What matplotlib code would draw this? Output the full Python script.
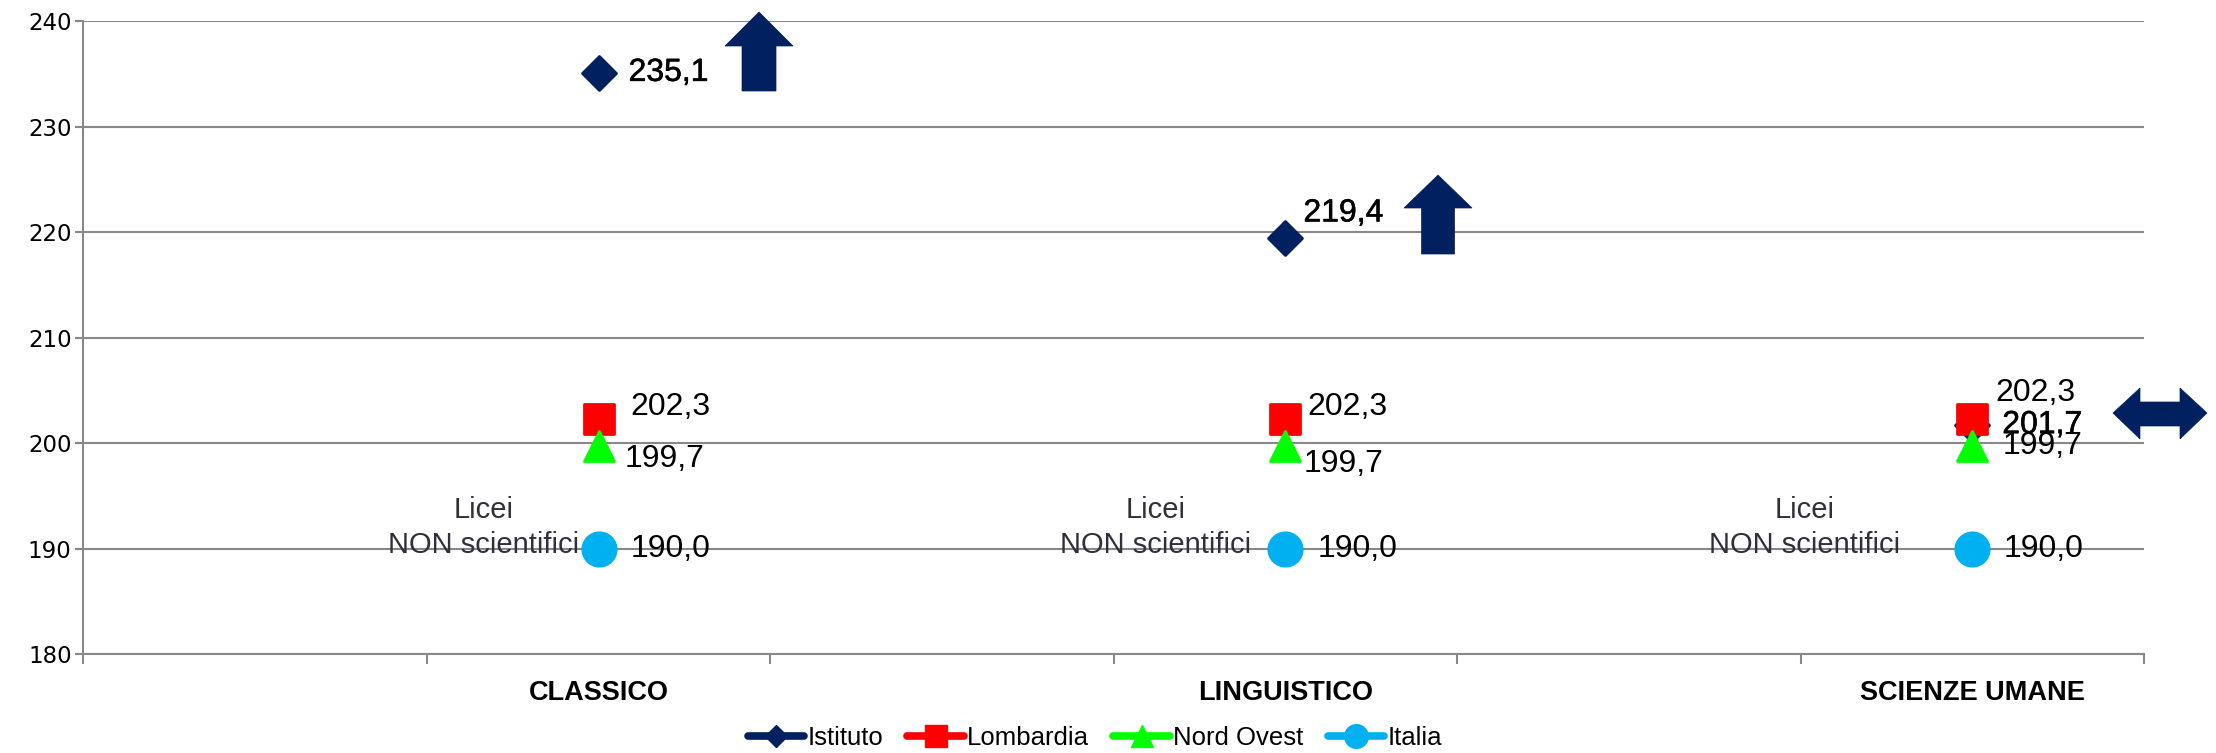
import matplotlib
matplotlib.use('Agg')
import matplotlib.pyplot as plt
import matplotlib.patheffects as pe
from matplotlib import font_manager
from matplotlib.lines import Line2D
from matplotlib.markers import MarkerStyle
from matplotlib.patches import Polygon

# data
categories = ["CLASSICO", "LINGUISTICO", "SCIENZE UMANE"]
series = ["Istituto", "Lombardia", "Nord Ovest", "Italia"]
istituto = [235.1, 219.4, 201.7]
lombardia = [202.3, 202.3, 202.3]
nord_ovest = [199.7, 199.7, 199.7]
italia = [190.0, 190.0, 190.0]
group_note = "Licei\nNON scientifici"

colors = ["#002060", "#FF0000", "#00FF00", "#00B0F0"]
markers = ["D", "s", "^", "o"]
msizes = [17.5, 22, 22, 24]
leg_msizes = [11, 16, 16, 17]

# label offsets in pixels (dx, dy) per series / category
offsets = [
    [(30, 0), (18, 25), (30, 0)],
    [(32, 12), (22, 12), (23, 26)],
    [(26, -13), (18, -18), (30, 0)],
    [(32, 0), (32, 0), (31, 0)],
]
note_x = [1.164, 3.121, 5.013]

names = {f.name for f in font_manager.fontManager.ttflist}
sans = "Liberation Sans" if "Liberation Sans" in names else "DejaVu Sans"

W, H = 2216, 753
fig = plt.figure(figsize=(W / 100, H / 100), dpi=100)
ax = fig.add_axes([83.4 / W, 1 - 654 / H, (2144 - 83.4) / W, (654 - 21.2) / H])

xs = [2 * i + 1.5 for i in range(len(categories))]
values = [istituto, lombardia, nord_ovest, italia]

for k, vals in enumerate(values):
    ms = MarkerStyle(markers[k], joinstyle="round")
    ax.plot(xs, vals, linestyle="none", marker=ms, ms=msizes[k],
            color=colors[k], mec=colors[k], mew=2, zorder=3 + k)
    for i, v in enumerate(vals):
        dx, dy = offsets[k][i]
        t = ax.annotate(f"{v:.1f}".replace(".", ","), (xs[i], v),
                        xytext=(dx, dy), textcoords="offset pixels",
                        ha="left", va="center", fontsize=23, family=sans,
                        color="black", zorder=10)
        if k == 0:
            t.set_path_effects([pe.withStroke(linewidth=0.4,
                                              foreground="black")])

for i in range(len(categories)):
    ax.text(note_x[i], 192.0, group_note, ha="center", va="center",
            multialignment="center", fontsize=21, family=sans,
            color="#30303c", linespacing=1.35, zorder=2)

ax.set_xlim(0, 6)
ax.set_ylim(180, 240)
ax.set_yticks(range(180, 241, 10))
ax.set_xticks(range(0, 7))
ax.set_xticklabels([])
ax.set_xticks(xs, minor=True)
ax.set_xticklabels(categories, minor=True, fontsize=19.5, family=sans,
                   fontweight="bold")
ax.tick_params(axis="x", which="minor", length=0, pad=19)
ax.tick_params(axis="x", which="major", length=7, width=1.5, color="#888888")
ax.tick_params(axis="y", length=6, width=1.5, color="#888888", pad=2.5,
               labelsize=16.5)
ax.grid(axis="y", color="#888888", linewidth=1.5)
ax.set_axisbelow(True)
for s in ["top", "right"]:
    ax.spines[s].set_visible(False)
for s in ["left", "bottom"]:
    ax.spines[s].set_color("#888888")
    ax.spines[s].set_linewidth(1.5)

# arrows (pixel coords, y measured from top)
def px_poly(pts, color):
    p = Polygon([(x / W, 1 - y / H) for x, y in pts], closed=True,
                transform=fig.transFigure, facecolor=color,
                edgecolor=color, linewidth=0.5)
    fig.patches.append(p)

def up_arrow(cx, tip, base, bottom, head_w, shaft_w, color):
    hw, sw = head_w / 2, shaft_w / 2
    px_poly([(cx - hw, base), (cx, tip), (cx + hw, base), (cx + sw, base),
             (cx + sw, bottom), (cx - sw, bottom), (cx - sw, base)], color)

up_arrow(759, 12, 46, 91, 68, 34, colors[0])
up_arrow(1438, 175, 208, 254, 68, 33, colors[0])
px_poly([(2113, 413), (2140, 388), (2140, 402), (2180, 402), (2180, 388),
         (2207, 413), (2180, 439), (2180, 426), (2140, 426), (2140, 439)],
        colors[0])

handles = [Line2D([], [], color=colors[k], lw=5.5, marker=markers[k],
                  ms=leg_msizes[k], solid_capstyle="round")
           for k in range(len(series))]
fig.legend(handles, series, loc="center", bbox_to_anchor=(0.494, 0.02),
           ncol=4, frameon=False, prop={"family": sans, "size": 18.5},
           handlelength=2.2, handletextpad=0.12, columnspacing=0.95)

fig.savefig("out.png", dpi=100)
